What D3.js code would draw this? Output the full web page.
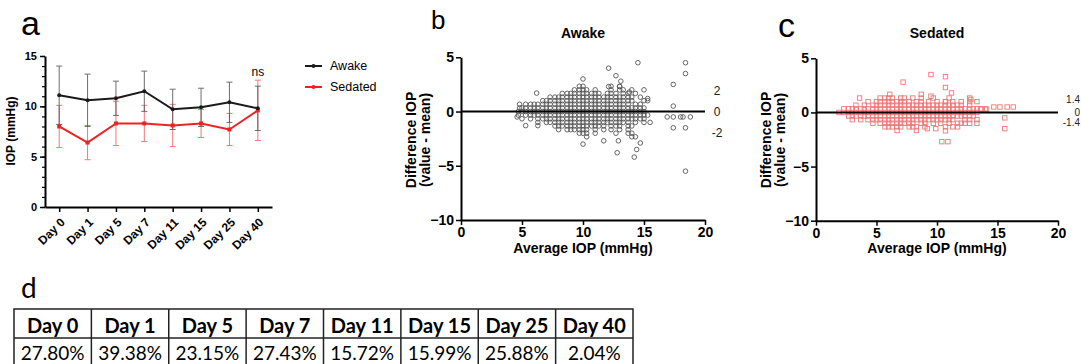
<!DOCTYPE html>
<html>
<head>
<meta charset="utf-8">
<script src="https://cdn.jsdelivr.net/npm/d3@7"></script>
<style>
  body { margin: 0; background: #fff; }
  text { font-family: "Liberation Sans", Arial, sans-serif; }
</style>
</head>
<body>
<svg id="fig" width="1081" height="364"></svg>
<script>
// ---- data ----
const days = ['Day 0', 'Day 1', 'Day 5', 'Day 7', 'Day 11', 'Day 15', 'Day 25', 'Day 40'];
const awakeMean = [11.1, 10.6, 10.8, 11.5, 9.7, 9.9, 10.4, 9.8];
const awakeSD = [2.9, 2.6, 1.7, 2.0, 2.0, 1.9, 2.0, 2.2];
const sedatedMean = [8.0, 6.4, 8.3, 8.3, 8.1, 8.3, 7.7, 9.6];
const sedatedSD = [2.1, 1.7, 2.2, 1.8, 2.1, 1.4, 1.6, 3.0];
const yTicksA = [0, 5, 10, 15];
const yTicksBA = [-10, -5, 0, 5];
const xTicksBA = [0, 5, 10, 15, 20];
const tablePct = ['27.80%', '39.38%', '23.15%', '27.43%', '15.72%', '15.99%', '25.88%', '2.04%'];

// Bland-Altman points, grouped by difference row: [difference, [averages...]]
const awakeRows = [
  [0, [4.7,5.0,5.3,5.7,6.0,6.3,6.7,7.0,7.3,7.7,8.0,8.3,8.7,9.0,9.3,9.7,10.0,10.3,10.7,11.0,11.3,11.7,12.0,12.3,12.7,13.0,13.3,13.7,14.0,14.3,14.7,15.0]],
  [0.33, [4.8,5.0,5.3,5.7,6.0,6.3,6.7,7.0,7.3,7.7,8.0,8.3,8.7,9.0,9.3,9.7,10.0,10.3,10.7,11.0,11.3,11.7,12.0,12.3,12.7,13.0,13.3,13.7,14.0,14.3,14.7,15.0]],
  [-0.33, [4.7,5.3,5.7,6.0,6.3,6.7,7.0,7.3,7.7,8.0,8.3,8.7,9.0,9.3,9.7,10.0,10.3,10.7,11.0,11.3,11.7,12.0,12.3,12.7,13.0,13.3,13.7,14.0,14.3,14.7,15.0,15.3]],
  [0.67, [4.8,5.3,5.7,6.0,6.3,6.7,7.0,7.3,7.7,8.0,8.3,8.7,9.0,9.3,9.7,10.0,10.3,10.7,11.0,11.3,11.7,12.0,12.3,12.7,13.0,13.3,13.7,14.3,14.7]],
  [-0.67, [5.0,5.7,6.3,6.7,7.0,7.3,7.7,8.0,8.3,8.7,9.0,9.3,9.7,10.0,10.3,10.7,11.0,11.3,11.7,12.0,12.3,12.7,13.0,13.3,13.7,14.0,14.3,14.7,15.0]],
  [1.0, [6.7,7.0,7.3,7.7,8.0,8.3,8.7,9.0,9.3,9.7,10.0,10.3,10.7,11.0,11.3,11.7,12.0,12.3,12.7,13.0,13.3,13.7,14.0,15.0,15.3]],
  [-1.0, [6.3,7.0,7.3,7.7,8.0,8.3,8.7,9.0,9.3,9.7,10.0,10.3,10.7,11.0,11.3,11.7,12.0,12.3,12.7,13.0,13.3,13.7,14.3,15.0]],
  [1.33, [7.3,7.7,8.0,8.3,8.7,9.0,9.3,9.7,10.0,10.3,10.7,11.0,11.3,11.7,12.0,12.3,12.7,13.0,13.3,13.7,14.0,14.7]],
  [-1.33, [7.7,8.0,8.3,8.7,9.0,9.3,9.7,10.0,10.3,10.7,11.0,11.3,11.7,12.3,12.7,13.0,13.7,14.0]],
  [1.67, [8.3,8.7,9.0,9.3,9.7,10.0,10.3,10.7,11.0,11.3,12.0,12.3,12.7,13.3,13.7,14.3]],
  [-1.67, [8.0,8.7,9.0,9.3,9.7,10.0,10.3,11.0,11.7,12.3,13.0,13.7]],
  [2.0, [9.3,9.7,10.0,10.3,11.0,12.3,13.0,13.3,14.0]],
  [-2.0, [9.7,10.0,10.3,11.0,12.7,13.7,14.0]],
  [2.33, [9.7,10.0,12.3,13.0]],
  [-2.33, [10.3,14.0,14.3]]
];
const awakeOutliers = [
  [18.4,4.5],[18.4,3.5],[18.4,-5.5],[18.4,-1.5],[17.4,2.5],[17.4,0.5],[17.4,-0.5],[17.4,-1.5],
  [16.9,-0.5],[18.0,-0.5],[18.2,-0.5],[18.8,-0.5],[14.5,4.5],[12.1,4.0],[10.0,3.0],[12.7,3.3],
  [13.1,2.8],[6.2,1.7],[10.0,-3.0],[11.7,-2.7],[12.9,-2.7],[12.8,-3.8],[14.4,-3.5],[14.2,-4.2],
  [14.7,-2.9],[15.5,-1.0],[5.3,-1.3],[4.6,-0.5],[6.3,-1.3],[12.1,2.3],[13.0,2.3],[13.8,1.8],
  [15.0,2.0],[15.3,1.2]
];
const sedatedRows = [
  [0, [1.9,2.3,2.7,3.0,3.3,3.7,4.0,4.3,4.7,5.0,5.3,5.7,6.0,6.3,6.7,7.0,7.3,7.7,8.0,8.3,8.7,9.0,9.3,9.7,10.0,10.3,10.7,11.0,11.3,11.7,12.0,12.3,12.7,13.0,13.3]],
  [0.33, [2.3,2.7,3.0,3.3,3.7,4.0,4.3,4.7,5.0,5.3,5.7,6.0,6.3,6.7,7.0,7.3,7.7,8.0,8.3,8.7,9.0,9.3,9.7,10.0,10.3,10.7,11.0,11.3,11.7,12.0,12.3,12.7,13.0,13.3,13.7,14.0]],
  [-0.33, [2.7,3.0,3.3,3.7,4.0,4.3,4.7,5.0,5.3,5.7,6.0,6.3,6.7,7.0,7.3,7.7,8.0,8.3,8.7,9.0,9.3,9.7,10.0,10.3,10.7,11.0,11.3,11.7,12.0,12.3,12.7,13.0]],
  [0.67, [3.3,4.0,4.7,5.0,5.3,5.7,6.0,6.3,6.7,7.0,7.3,7.7,8.0,8.3,8.7,9.0,9.3,9.7,10.0,10.3,10.7,11.0,11.3,11.7,12.0,12.7]],
  [-0.67, [3.0,3.7,4.3,4.7,5.0,5.3,5.7,6.0,6.3,6.7,7.0,7.3,7.7,8.0,8.3,8.7,9.0,9.3,9.7,10.0,10.3,10.7,11.0,11.3,12.3,12.7,13.3]],
  [1.0, [4.3,5.0,5.3,5.7,6.0,6.3,6.7,7.0,7.3,7.7,8.3,8.7,9.3,10.0,10.7,11.3,12.0,12.7,13.3]],
  [-1.0, [4.7,5.3,5.7,6.0,6.3,6.7,7.0,7.3,7.7,8.0,8.7,9.0,9.7,10.3,11.0,11.7,12.0,12.3,12.7,13.3]],
  [1.33, [3.6,5.3,5.7,6.0,6.3,7.0,7.3,8.0,8.7,9.7,11.0,12.7]],
  [-1.33, [5.7,6.0,6.3,6.7,7.0,7.7,8.0,8.3,9.0,10.7,11.3,11.7]],
  [1.67, [6.1,8.7]],
  [-1.67, [6.7,8.3]]
];
const sedatedOutliers = [
  [9.5,3.5],[10.7,3.3],[10.7,2.3],[11.2,1.8],[7.2,2.8],[9.5,1.5],[10.4,-2.7],[10.9,-2.7],
  [15.6,-0.5],[15.6,-1.5],[14.7,0.5],[15.2,0.5],[15.8,0.5],[16.3,0.5],[13.6,0.3],[14.1,0.3],
  [9.2,-1.5],[9.9,-1.5],[12.8,1.2],[10.7,-1.7],[10.7,1.0]
];

const FONT = '"Liberation Sans", Arial, sans-serif';
const svg = d3.select('#fig');

function styleAxis(g, size) {
  g.select('.domain').attr('stroke', '#000').attr('stroke-width', 2);
  g.selectAll('.tick line').attr('stroke', '#000').attr('stroke-width', 1.5);
  g.selectAll('text').style('font', `bold ${size}px ${FONT}`).attr('fill', '#000');
}

// panel letters
svg.append('text').attr('x', 21).attr('y', 35).style('font-size', '34px').text('a');
svg.append('text').attr('x', 431).attr('y', 29).style('font-size', '26px').text('b');
svg.append('text').attr('x', 778).attr('y', 37).style('font-size', '34px').text('c');
svg.append('text').attr('x', 21).attr('y', 298).style('font', '28px Lato').text('d');

// ---- panel a: IOP over time ----
const xA = d3.scalePoint().domain(days).range([45, 272]).padding(0.5);
const yA = d3.scaleLinear().domain([0, 15]).range([207, 56]);
const gA = svg.append('g');

// minor ticks
const minorA = gA.append('g').attr('transform', 'translate(45,0)')
  .call(d3.axisLeft(yA).ticks(15).tickSize(3).tickFormat(''));
minorA.select('.domain').remove();
minorA.selectAll('.tick line').attr('stroke-width', 1.2);

const yAxA = gA.append('g').attr('transform', 'translate(45,0)')
  .call(d3.axisLeft(yA).tickValues(yTicksA).tickSize(5).tickSizeOuter(0).tickPadding(3));
styleAxis(yAxA, 11);

const xAxA = gA.append('g').attr('transform', 'translate(0,207)')
  .call(d3.axisBottom(xA).tickSize(5).tickSizeOuter(0));
styleAxis(xAxA, 12);
xAxA.selectAll('text')
  .attr('x', 0).attr('y', 0).attr('dy', '0.35em')
  .attr('text-anchor', 'end')
  .attr('transform', 'translate(3,13) rotate(-45)');

gA.append('text')
  .attr('transform', 'translate(15,131) rotate(-90)')
  .attr('text-anchor', 'middle')
  .style('font', `bold 12px ${FONT}`)
  .text('IOP (mmHg)');

const series = [
  { name: 'Sedated', mean: sedatedMean, sd: sedatedSD, color: '#ee2222', bar: '#f06060', shape: 'square' },
  { name: 'Awake', mean: awakeMean, sd: awakeSD, color: '#1a1a1a', bar: '#555', shape: 'circle' }
];

series.forEach(s => {
  const eb = gA.append('g').attr('stroke', s.bar).attr('stroke-width', 1).attr('opacity', 0.85);
  days.forEach((d, i) => {
    const cx = xA(d), hi = yA(s.mean[i] + s.sd[i]), lo = yA(s.mean[i] - s.sd[i]);
    eb.append('line').attr('x1', cx).attr('x2', cx).attr('y1', hi).attr('y2', lo);
    eb.append('line').attr('x1', cx - 3).attr('x2', cx + 3).attr('y1', hi).attr('y2', hi);
    eb.append('line').attr('x1', cx - 3).attr('x2', cx + 3).attr('y1', lo).attr('y2', lo);
  });
});

series.forEach(s => {
  gA.append('path')
    .datum(s.mean)
    .attr('fill', 'none')
    .attr('stroke', s.color)
    .attr('stroke-width', 2)
    .attr('d', d3.line().x((d, i) => xA(days[i])).y(d => yA(d)));
  if (s.shape === 'circle') {
    gA.selectAll(null).data(s.mean).enter().append('circle')
      .attr('cx', (d, i) => xA(days[i])).attr('cy', d => yA(d)).attr('r', 2)
      .attr('fill', s.color);
  } else {
    gA.selectAll(null).data(s.mean).enter().append('rect')
      .attr('x', (d, i) => xA(days[i]) - 2).attr('y', d => yA(d) - 2)
      .attr('width', 4).attr('height', 4).attr('fill', s.color);
  }
});

gA.append('text').attr('x', xA('Day 40')).attr('y', 76).attr('text-anchor', 'middle')
  .style('font-size', '12px').text('ns');

// legend
const legend = gA.selectAll('.legend-element')
  .data(series.slice().reverse())
  .enter().append('g')
  .attr('transform', (d, i) => `translate(305,${66 + i * 21})`);
legend.append('line').attr('x1', 0).attr('x2', 17).attr('stroke', d => d.color).attr('stroke-width', 2);
legend.append('circle').attr('cx', 8.5).attr('r', 2).attr('fill', d => d.color);
legend.append('text').attr('x', 25).attr('dy', '0.35em').style('font-size', '12.5px').text(d => d.name);

// ---- panels b & c: Bland-Altman ----
function blandAltman(cfg) {
  const x = d3.scaleLinear().domain([0, 20]).range([cfg.left, cfg.right]);
  const y = d3.scaleLinear().domain([-10, 5]).range([cfg.bottom, cfg.top]);
  const g = svg.append('g');

  const pts = [];
  cfg.rows.forEach(r => r[1].forEach(v => pts.push([v, r[0]])));
  cfg.outliers.forEach(p => pts.push(p));

  const marks = g.append('g')
    .attr('fill', 'none')
    .attr('stroke', cfg.color)
    .attr('stroke-width', 0.9)
    .attr('opacity', cfg.opacity);
  if (cfg.shape === 'circle') {
    marks.selectAll('circle').data(pts).join('circle')
      .attr('cx', d => x(d[0])).attr('cy', d => y(d[1])).attr('r', 2.3);
  } else {
    marks.selectAll('rect').data(pts).join('rect')
      .attr('x', d => x(d[0]) - 2.2).attr('y', d => y(d[1]) - 2.2)
      .attr('width', 4.4).attr('height', 4.4);
  }

  g.append('line')
    .attr('x1', x(0)).attr('x2', x(20)).attr('y1', y(0)).attr('y2', y(0))
    .attr('stroke', '#000').attr('stroke-width', 2);

  const yAx = g.append('g').attr('transform', `translate(${cfg.left},0)`)
    .call(d3.axisLeft(y).tickValues(yTicksBA).tickSize(5).tickSizeOuter(0).tickPadding(2));
  styleAxis(yAx, 14);
  const xAx = g.append('g').attr('transform', `translate(0,${cfg.bottom})`)
    .call(d3.axisBottom(x).tickValues(xTicksBA).tickSize(5).tickSizeOuter(0).tickPadding(2));
  styleAxis(xAx, 14);

  g.append('text').attr('x', (cfg.left + cfg.right) / 2).attr('y', 38)
    .attr('text-anchor', 'middle').style('font', `bold 14px ${FONT}`).text(cfg.title);
  g.append('text').attr('x', (cfg.left + cfg.right) / 2).attr('y', 253)
    .attr('text-anchor', 'middle').style('font', `bold 14px ${FONT}`).text('Average IOP (mmHg)');
  g.append('text').attr('transform', `translate(${cfg.left - 45},140) rotate(-90)`)
    .attr('text-anchor', 'middle').style('font', `bold 14px ${FONT}`).text('Difference IOP');
  g.append('text').attr('transform', `translate(${cfg.left - 31},140) rotate(-90)`)
    .attr('text-anchor', 'middle').style('font', `bold 14px ${FONT}`).text('(value - mean)');

  g.selectAll('.ref-label').data(cfg.refs).enter().append('text')
    .attr('x', cfg.refX).attr('y', (d, i) => y(d) + cfg.refShift[i])
    .attr('dy', '0.35em')
    .attr('text-anchor', cfg.refAnchor)
    .attr('fill', '#222')
    .style('font-size', cfg.refSize + 'px')
    .text(d => d);
}

blandAltman({
  left: 461, right: 705, top: 57.3, bottom: 220,
  title: 'Awake', rows: awakeRows, outliers: awakeOutliers,
  shape: 'circle', color: '#1e1e1e', opacity: 0.75,
  refs: [2, 0, -2], refShift: [1, 0, 0], refX: 717, refAnchor: 'middle', refSize: 12
});

blandAltman({
  left: 816, right: 1058, top: 58.3, bottom: 220.7,
  title: 'Sedated', rows: sedatedRows, outliers: sedatedOutliers,
  shape: 'square', color: '#ec4a4a', opacity: 0.75,
  refs: [1.4, 0, -1.4], refShift: [2, 0, -5], refX: 1080, refAnchor: 'end', refSize: 10
});

// ---- panel d: table ----
const xT = d3.scaleBand().domain(days).range([14, 633]);
const rowTop = [309, 338];
const rowBottom = 367;
const gT = svg.append('g');
gT.append('rect').attr('x', 14).attr('y', rowTop[0]).attr('width', 633 - 14).attr('height', rowBottom - rowTop[0])
  .attr('fill', 'none').attr('stroke', '#222').attr('stroke-width', 1.5);
gT.append('line').attr('x1', 14).attr('x2', 633).attr('y1', rowTop[1]).attr('y2', rowTop[1])
  .attr('stroke', '#222').attr('stroke-width', 1.5);
gT.selectAll('.col-line').data(days.slice(1)).enter().append('line')
  .attr('x1', d => xT(d)).attr('x2', d => xT(d))
  .attr('y1', rowTop[0]).attr('y2', rowBottom)
  .attr('stroke', '#222').attr('stroke-width', 1.5);
gT.selectAll('.hdr').data(days).enter().append('text')
  .attr('x', d => xT(d) + xT.bandwidth() / 2).attr('y', 333)
  .attr('text-anchor', 'middle').style('font', 'bold 20px Lato').text(d => d);
gT.selectAll('.val').data(tablePct).enter().append('text')
  .attr('x', (d, i) => xT(days[i]) + xT.bandwidth() / 2).attr('y', 360)
  .attr('text-anchor', 'middle').style('font', '19px Lato').text(d => d);
</script>
</body>
</html>
